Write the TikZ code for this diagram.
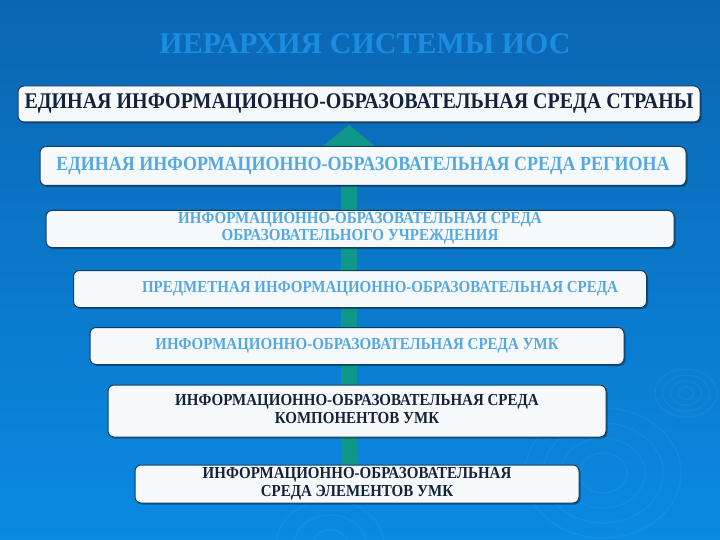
\documentclass[tikz,border=0pt]{standalone}
\usepackage{fontspec}
\usepackage{graphicx}
\setmainfont{Liberation Serif}[BoldFont={Liberation Serif Bold}]
\usetikzlibrary{arrows.meta,shadows}
\definecolor{bgtop}{HTML}{0B66B2}
\definecolor{bgbot}{HTML}{0A8AE2}
\definecolor{boxline}{HTML}{123F60}
\definecolor{boxfill}{HTML}{F5F9FC}
\definecolor{darktext}{HTML}{15223A}
\definecolor{lighttext}{HTML}{55A8E0}
\definecolor{titletext}{HTML}{1C8CE0}
\definecolor{arrowgreen}{HTML}{0F988A}
\newcommand{\tall}[1]{\scalebox{1}[1.12]{\begin{tabular}{@{}c@{}}#1\end{tabular}}}
\tikzset{
  level/.style={draw=boxline, line width=1pt, fill=boxfill, rounded corners=6pt,
    inner sep=0pt, align=center, font=\bfseries,
    drop shadow={shadow xshift=1.5pt, shadow yshift=-1.5pt, fill=black, opacity=0.35}},
  dark/.style={text=darktext},
  light/.style={text=lighttext},
  ripple/.style={draw=white, opacity=0.045, line width=1.5pt}
}

\begin{document}
\begin{tikzpicture}[x=1pt,y=-1pt]
\useasboundingbox (0,0) rectangle (720,540);
\shade[top color=bgtop, bottom color=bgbot] (0,0) rectangle (720,540);
\foreach \r in {6,12,18,24} \draw[ripple] (686,393) ellipse ({1.3*\r} and \r);
\foreach \r in {20,35,50,65} \draw[ripple] (603,473) ellipse ({1.2*\r} and \r);
\foreach \r in {15,30,45} \draw[ripple] (330,545) ellipse ({1.2*\r} and \r);

\node[text=titletext, font=\bfseries\fontsize{30}{32}\selectfont] (title) at (365,44) {ИЕРАРХИЯ СИСТЕМЫ ИОС};

\coordinate (base) at (349,470);
\coordinate (apex) at (349,125);
\draw[arrowgreen, line width=16pt, -{Triangle[width=58pt,length=24pt]}] (base) -- (apex);

\node[level, dark, minimum width=682, minimum height=36, font=\bfseries\fontsize{20}{22}\selectfont] (country) at (359,104)
  {\tall{ЕДИНАЯ ИНФОРМАЦИОННО-ОБРАЗОВАТЕЛЬНАЯ СРЕДА СТРАНЫ}};
\node[level, light, minimum width=646, minimum height=39, font=\bfseries\fontsize{18}{20}\selectfont] (region) at (363,166)
  {\tall{ЕДИНАЯ ИНФОРМАЦИОННО-ОБРАЗОВАТЕЛЬНАЯ СРЕДА РЕГИОНА}};
\node[level, light, minimum width=628, minimum height=37, font=\bfseries\fontsize{15}{15}\selectfont] (school) at (360,229)
  {\tall{ИНФОРМАЦИОННО-ОБРАЗОВАТЕЛЬНАЯ СРЕДА\\ОБРАЗОВАТЕЛЬНОГО УЧРЕЖДЕНИЯ}};
\node[level, light, minimum width=573, minimum height=37, font=\bfseries\fontsize{15}{16}\selectfont] (subject) at (360,289)
  {\tall{\hspace*{40pt}ПРЕДМЕТНАЯ ИНФОРМАЦИОННО-ОБРАЗОВАТЕЛЬНАЯ СРЕДА}};
\node[level, light, minimum width=534, minimum height=37, font=\bfseries\fontsize{15}{16}\selectfont] (umk) at (357,346)
  {\tall{ИНФОРМАЦИОННО-ОБРАЗОВАТЕЛЬНАЯ СРЕДА УМК}};
\node[level, dark, minimum width=498, minimum height=52, font=\bfseries\fontsize{15}{16.5}\selectfont] (parts) at (357,411)
  {\tall{ИНФОРМАЦИОННО-ОБРАЗОВАТЕЛЬНАЯ СРЕДА\\КОМПОНЕНТОВ УМК}};
\node[level, dark, minimum width=444, minimum height=38, font=\bfseries\fontsize{15}{16.5}\selectfont] (items) at (357,484)
  {\tall{ИНФОРМАЦИОННО-ОБРАЗОВАТЕЛЬНАЯ\\СРЕДА ЭЛЕМЕНТОВ УМК}};
\end{tikzpicture}
\end{document}
